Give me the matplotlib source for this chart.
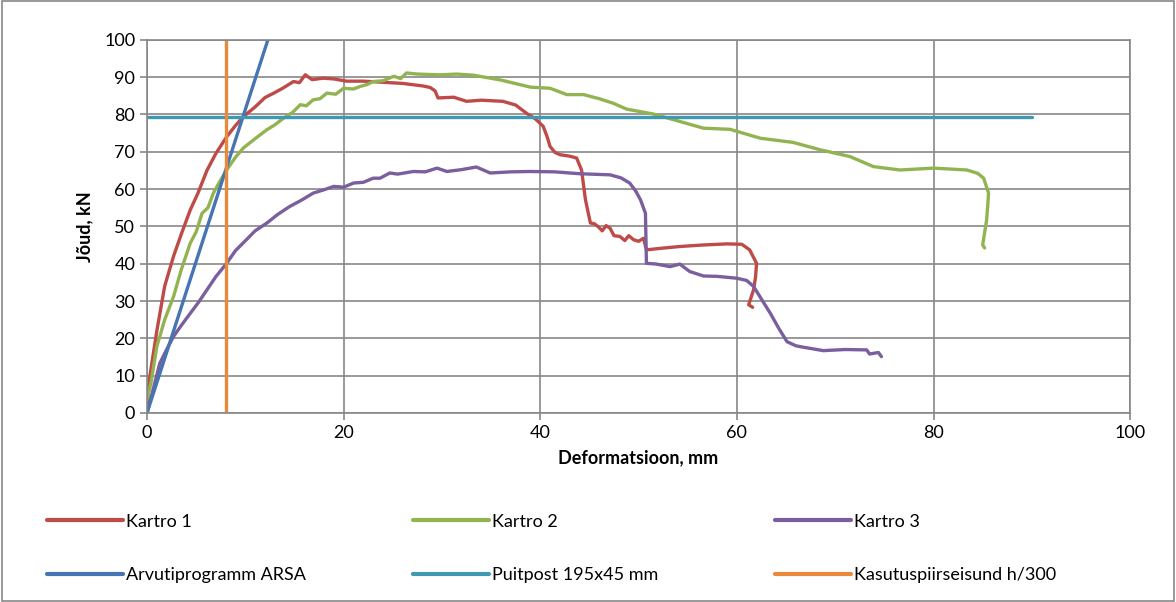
import matplotlib

matplotlib.use("Agg")
import matplotlib.pyplot as plt
from matplotlib.patches import Rectangle

# Kartro 1
k1_x = [0, 0.3, 1.0, 1.8, 2.7, 3.5, 4.4, 5.2, 6.1, 7.0, 8.1, 9.0, 9.8, 11.0, 12.0, 12.9, 13.8,
        14.9, 15.5, 16.1, 16.8, 17.9, 19.0, 20.3, 22.0, 24.0, 26.0, 28.1, 28.8, 29.3, 29.6,
        31.2, 32.5, 34.0, 36.2, 37.5, 38.6, 39.5, 40.3, 40.7, 41.0, 41.5, 42.0, 43.0, 43.7,
        44.2, 44.6, 45.1, 45.5, 45.9, 46.3, 46.7, 47.1, 47.5, 48.1, 48.6, 49.0, 49.5, 50.0,
        50.5, 50.8, 52.2, 54.2, 56.5, 59.0, 60.5, 61.3, 62.0, 61.9, 61.7, 61.2, 61.6]
k1_y = [2, 10, 22, 34, 42, 48, 54.4, 59, 65, 69.5, 74, 77, 79.4, 82, 84.5, 85.7, 87,
        88.8, 88.5, 90.6, 89.3, 89.7, 89.5, 88.9, 88.9, 88.6, 88.3, 87.6, 87.2, 86.3, 84.4,
        84.6, 83.5, 83.8, 83.5, 82.5, 80.3, 78.8, 76.8, 74, 71.4, 69.8, 69.2, 68.8, 68.3,
        65.1, 57.1, 50.9, 50.7, 49.9, 48.8, 50.2, 49.5, 47.5, 47.3, 46.2, 47.5, 46.4, 46.0,
        46.8, 43.7, 44.1, 44.6, 45.0, 45.3, 45.2, 43.7, 40.1, 36.5, 33.0, 29.0, 28.3]

# Kartro 2
k2_x = [0, 0.4, 1.0, 1.8, 2.7, 3.5, 4.4, 5.0, 5.6, 6.2, 6.75, 7.4, 8.1, 9.0, 9.8, 11.0, 12.2,
        13.0, 13.9, 14.8, 15.6, 16.2, 16.9, 17.6, 18.3, 19.2, 20.0, 21.0, 21.7, 22.4, 23.0,
        24.0, 25.1, 25.8, 26.4, 27.5, 29.8, 31.5, 33.2, 36.0, 39.0, 41.0, 42.7, 44.4, 46.0,
        47.4, 48.8, 51.5, 54.2, 56.6, 59.3, 62.4, 65.7, 68.5, 71.5, 73.9, 76.6, 80.0, 83.4,
        84.5, 85.1, 85.6, 85.5, 85.4, 85.0, 85.2]
k2_y = [3.5, 8, 17.8, 25, 31.2, 38.5, 45.5, 48.5, 53.5, 55, 58.9, 62, 65.1, 68.5, 71.0, 73.5,
        75.9, 77.2, 79.0, 80.5, 82.6, 82.3, 83.9, 84.2, 85.7, 85.4, 87.0, 86.8, 87.5, 88.0,
        88.8, 89.0, 90.2, 89.6, 91.1, 90.8, 90.6, 90.8, 90.5, 89.2, 87.3, 87.0, 85.3, 85.3,
        84.2, 83.0, 81.4, 80.1, 78.1, 76.3, 76.0, 73.6, 72.5, 70.5, 68.7, 66.0, 65.1, 65.6,
        65.1, 64.2, 62.9, 58.9, 55.0, 51.7, 45.0, 44.2]

# Kartro 3
k3_x = [0, 0.5, 1.3, 2.0, 2.7, 3.5, 4.4, 5.2, 6.1, 7.0, 8.1, 9.0, 10.1, 11.0, 12.2, 13.3,
        14.5, 15.7, 16.9, 18.0, 19.0, 20.0, 21.0, 22.0, 23.0, 23.7, 24.7, 25.5, 27.1, 28.3,
        29.5, 30.5, 32.0, 33.5, 34.9, 37.0, 39.0, 41.5, 44.0, 47.1, 48.2, 49.1, 49.7, 50.2,
        50.7, 50.8, 51.8, 53.2, 54.2, 55.2, 56.6, 58.0, 60.0, 61.0, 61.7, 62.5, 63.4, 64.3,
        65.1, 66.0, 66.8, 68.8, 71.0, 73.2, 73.5, 74.4, 74.7]
k3_y = [0, 5, 13.3, 17, 20.5, 23.5, 26.7, 29.5, 33.0, 36.5, 40.1, 43.5, 46.4, 48.8, 50.9, 53.2,
        55.3, 57.0, 58.9, 59.8, 60.7, 60.5, 61.6, 61.8, 62.9, 62.9, 64.3, 64.0, 64.7, 64.6,
        65.6, 64.7, 65.2, 65.9, 64.3, 64.6, 64.7, 64.6, 64.1, 63.8, 63.0, 61.6, 59.5, 57.1,
        53.5, 40.1, 39.9, 39.2, 39.9, 37.9, 36.7, 36.6, 36.1, 35.5, 33.9, 30.5, 26.7, 22.5,
        19.1, 18.0, 17.6, 16.7, 17.0, 16.9, 15.8, 16.2, 15.1]

arsa_x = [0, 12.3]
arsa_y = [0, 100]
puit_x = [0, 90]
puit_y = [79.3, 79.3]
kasu_x = [8, 8]
kasu_y = [0, 100]

labels = ["Kartro 1", "Kartro 2", "Kartro 3",
          "Arvutiprogramm ARSA", "Puitpost 195x45 mm", "Kasutuspiirseisund h/300"]
colors = ["#BE4B48", "#92B450", "#7B5E9E", "#4575B2", "#3F99B2", "#E9893A"]

plt.rcParams["font.family"] = ["Lato", "DejaVu Sans"]

fig = plt.figure(figsize=(11.76, 6.02), dpi=100)
ax = fig.add_axes([0.125, 0.314, 0.836, 0.62])

series = [(k1_x, k1_y), (k2_x, k2_y), (k3_x, k3_y),
          (arsa_x, arsa_y), (puit_x, puit_y), (kasu_x, kasu_y)]
handles = []
for (xs, ys), lab, col in zip(series, labels, colors):
    h, = ax.plot(xs, ys, color=col, lw=2.4, label=lab, solid_capstyle="round",
                 solid_joinstyle="round")
    handles.append(h)

ax.set_xlim(0, 100)
ax.set_ylim(0, 100)
ax.set_xticks(range(0, 101, 20))
ax.set_yticks(range(0, 101, 10))
ax.grid(True, color="#878787", lw=1.2)
ax.set_axisbelow(True)
for s in ax.spines.values():
    s.set_color("#878787")
    s.set_linewidth(1.2)
ax.tick_params(colors="#878787", labelcolor="black", labelsize=13, length=5, width=1.2)
ax.set_xlabel("Deformatsioon, mm", fontsize=13, fontweight="bold", labelpad=6)
ax.set_ylabel("Jõud, kN", fontsize=13, fontweight="bold", labelpad=8)

# one legend per column so the columns sit at equal spacing like the original
col_left = [0.040, 0.351, 0.659]
for c in range(3):
    idx = [c, c + 3]
    leg = fig.legend([handles[i] for i in idx], [labels[i] for i in idx],
                     loc="upper left", bbox_to_anchor=(col_left[c], 0.147),
                     frameon=False, fontsize=13, handlelength=4.2, handletextpad=0.2,
                     labelspacing=2.08, borderpad=0, borderaxespad=0)
    for line in leg.get_lines():
        line.set_linewidth(3)

fig.patches.append(Rectangle((0.002, 0.002), 0.996, 0.996, transform=fig.transFigure,
                             fill=False, edgecolor="#878787", lw=1.2))

fig.savefig("out.png", dpi=100)
